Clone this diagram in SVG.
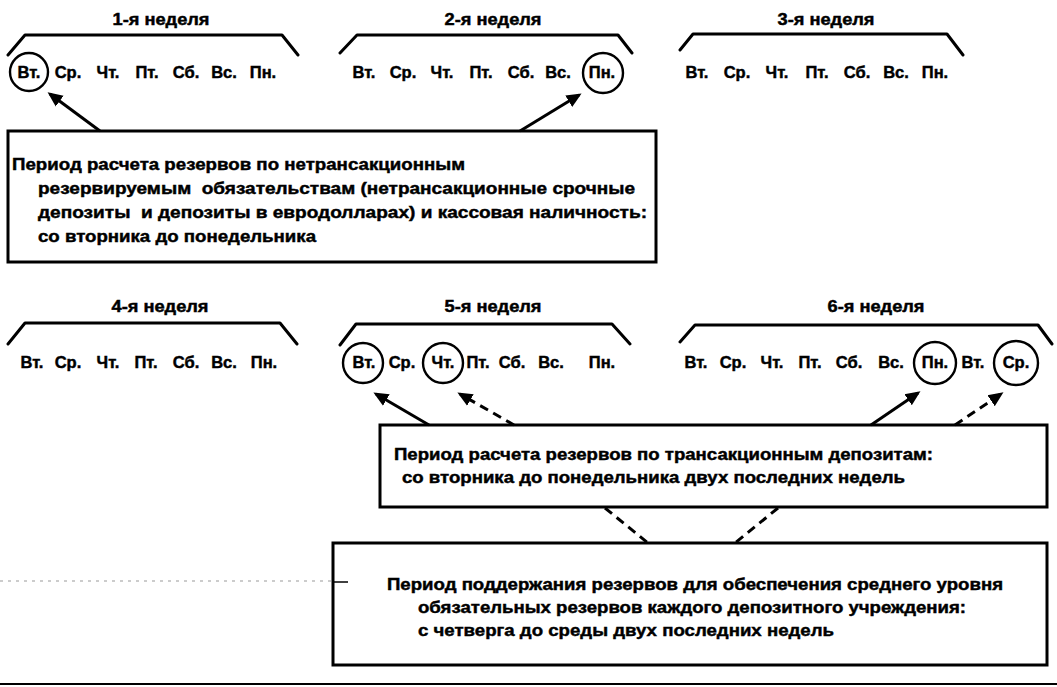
<svg xmlns="http://www.w3.org/2000/svg" width="1057" height="687" viewBox="0 0 1057 687">
<defs>
<style>
text{font-family:"Liberation Sans",Arial,sans-serif;font-weight:bold;fill:#000;stroke:#000;stroke-width:0.45}
.t{font-size:16px;text-anchor:middle}
.d{font-size:16.5px;text-anchor:middle}
.b{font-size:17px}
.br{fill:none;stroke:#000;stroke-width:3;stroke-linejoin:round;stroke-linecap:round}
.c{fill:none;stroke:#000;stroke-width:2.4}
.box{fill:#fff;stroke:#000;stroke-width:3}
.a{fill:none;stroke:#000;stroke-width:3;marker-end:url(#ah)}
.ad{fill:none;stroke:#000;stroke-width:3;stroke-dasharray:9 6;marker-end:url(#ah)}
.dl{fill:none;stroke:#000;stroke-width:3;stroke-dasharray:9 6}
</style>
<marker id="ah" markerWidth="6" markerHeight="6" refX="4" refY="3" orient="auto" markerUnits="strokeWidth">
<path d="M0,0.8 L5,3 L0,5.2 z" fill="#000"/>
</marker>
</defs>
<rect width="1057" height="687" fill="#fff"/>

<g id="week1">
<text class="t" x="161" y="25" textLength="97" lengthAdjust="spacingAndGlyphs">1-я неделя</text>
<path class="br" d="M8,55 L25,35 L282,35 L298,55"/>
<text class="d" x="29" y="78">Вт.</text>
<text class="d" x="68" y="78">Ср.</text>
<text class="d" x="108" y="78">Чт.</text>
<text class="d" x="147" y="78">Пт.</text>
<text class="d" x="186" y="78">Сб.</text>
<text class="d" x="224" y="78">Вс.</text>
<text class="d" x="263" y="78">Пн.</text>
<circle class="c" cx="29" cy="72" r="19"/>
</g>

<g id="week2">
<text class="t" x="493" y="25" textLength="97" lengthAdjust="spacingAndGlyphs">2-я неделя</text>
<path class="br" d="M340,53 L357,35 L618,35 L632,53"/>
<text class="d" x="364" y="78">Вт.</text>
<text class="d" x="403" y="78">Ср.</text>
<text class="d" x="442" y="78">Чт.</text>
<text class="d" x="481" y="78">Пт.</text>
<text class="d" x="521" y="78">Сб.</text>
<text class="d" x="558" y="78">Вс.</text>
<text class="d" x="602" y="78">Пн.</text>
<circle class="c" cx="603" cy="73" r="20"/>
</g>

<g id="week3">
<text class="t" x="826" y="25" textLength="97" lengthAdjust="spacingAndGlyphs">3-я неделя</text>
<path class="br" d="M680,50 L693,34 L947,34 L963,55"/>
<text class="d" x="697" y="78">Вт.</text>
<text class="d" x="737" y="78">Ср.</text>
<text class="d" x="777" y="78">Чт.</text>
<text class="d" x="817" y="78">Пт.</text>
<text class="d" x="857" y="78">Сб.</text>
<text class="d" x="896" y="78">Вс.</text>
<text class="d" x="935" y="78">Пн.</text>
</g>

<g id="box1">
<rect class="box" x="8" y="131" width="648" height="131"/>
<text class="b" x="12" y="170" textLength="453" lengthAdjust="spacingAndGlyphs">Период расчета резервов по нетрансакционным</text>
<text class="b" x="38" y="194" textLength="597" lengthAdjust="spacingAndGlyphs" xml:space="preserve">резервируемым  обязательствам (нетрансакционные срочные</text>
<text class="b" x="38" y="218" textLength="609" lengthAdjust="spacingAndGlyphs" xml:space="preserve">депозиты  и депозиты в евродолларах) и кассовая наличность:</text>
<text class="b" x="38" y="242" textLength="278" lengthAdjust="spacingAndGlyphs">со вторника до понедельника</text>
</g>

<g id="week4">
<text class="t" x="160" y="312" textLength="97" lengthAdjust="spacingAndGlyphs">4-я неделя</text>
<path class="br" d="M8,344 L25,323 L280,323 L297,344"/>
<text class="d" x="32" y="368">Вт.</text>
<text class="d" x="68" y="368">Ср.</text>
<text class="d" x="108" y="368">Чт.</text>
<text class="d" x="146" y="368">Пт.</text>
<text class="d" x="186" y="368">Сб.</text>
<text class="d" x="224" y="368">Вс.</text>
<text class="d" x="264" y="368">Пн.</text>
</g>

<g id="week5">
<text class="t" x="493" y="312" textLength="97" lengthAdjust="spacingAndGlyphs">5-я неделя</text>
<path class="br" d="M340,345 L356,324 L612,324 L630,344"/>
<text class="d" x="364" y="368">Вт.</text>
<text class="d" x="402" y="368">Ср.</text>
<text class="d" x="443" y="368">Чт.</text>
<text class="d" x="478" y="368">Пт.</text>
<text class="d" x="512" y="368">Сб.</text>
<text class="d" x="551" y="368">Вс.</text>
<text class="d" x="602" y="368">Пн.</text>
<circle class="c" cx="363" cy="363" r="20"/>
<circle class="c" cx="443" cy="363" r="20"/>
</g>

<g id="week6">
<text class="t" x="876" y="312" textLength="97" lengthAdjust="spacingAndGlyphs">6-я неделя</text>
<path class="br" d="M680,342 L695,325 L1038,325 L1052,344"/>
<text class="d" x="696" y="368">Вт.</text>
<text class="d" x="733" y="368">Ср.</text>
<text class="d" x="772" y="368">Чт.</text>
<text class="d" x="810" y="368">Пт.</text>
<text class="d" x="849" y="368">Сб.</text>
<text class="d" x="891" y="368">Вс.</text>
<text class="d" x="935" y="368">Пн.</text>
<text class="d" x="973" y="368">Вт.</text>
<text class="d" x="1016" y="368">Ср.</text>
<circle class="c" cx="935" cy="363" r="21"/>
<circle class="c" cx="1016" cy="363" r="22"/>
</g>

<g id="box2">
<rect class="box" x="380" y="425" width="667" height="82"/>
<text class="b" x="394" y="460" textLength="539" lengthAdjust="spacingAndGlyphs">Период расчета резервов по трансакционным депозитам:</text>
<text class="b" x="402" y="483" textLength="503" lengthAdjust="spacingAndGlyphs">со вторника до понедельника двух последних недель</text>
</g>

<g id="box3">
<rect class="box" x="333" y="543" width="714" height="122"/>
<text class="b" x="387" y="590" textLength="616" lengthAdjust="spacingAndGlyphs">Период поддержания резервов для обеспечения среднего уровня</text>
<text class="b" x="418" y="613" textLength="548" lengthAdjust="spacingAndGlyphs">обязательных резервов каждого депозитного учреждения:</text>
<text class="b" x="418" y="636" textLength="416" lengthAdjust="spacingAndGlyphs">с четверга до среды двух последних недель</text>
</g>

<g id="connectors">
<path class="a" d="M100,131 L50,94"/>
<path class="a" d="M520,131 L579,95"/>
<path class="a" d="M429,425 L376,394"/>
<path class="ad" d="M514,425 L460,394"/>
<path class="a" d="M871,425 L918,393"/>
<path class="ad" d="M955,425 L1001,394"/>
<path class="dl" d="M605,508 L648,543"/>
<path class="dl" d="M778,508 L735,543"/>
</g>

<g id="rules">
<path d="M0,581 L333,581" fill="none" stroke="#999" stroke-width="1" stroke-dasharray="3 5"/>
<path d="M334,582 L348,582" fill="none" stroke="#000" stroke-width="1.5"/>
<path d="M0,684 L1057,684" fill="none" stroke="#000" stroke-width="2"/>
</g>
</svg>
